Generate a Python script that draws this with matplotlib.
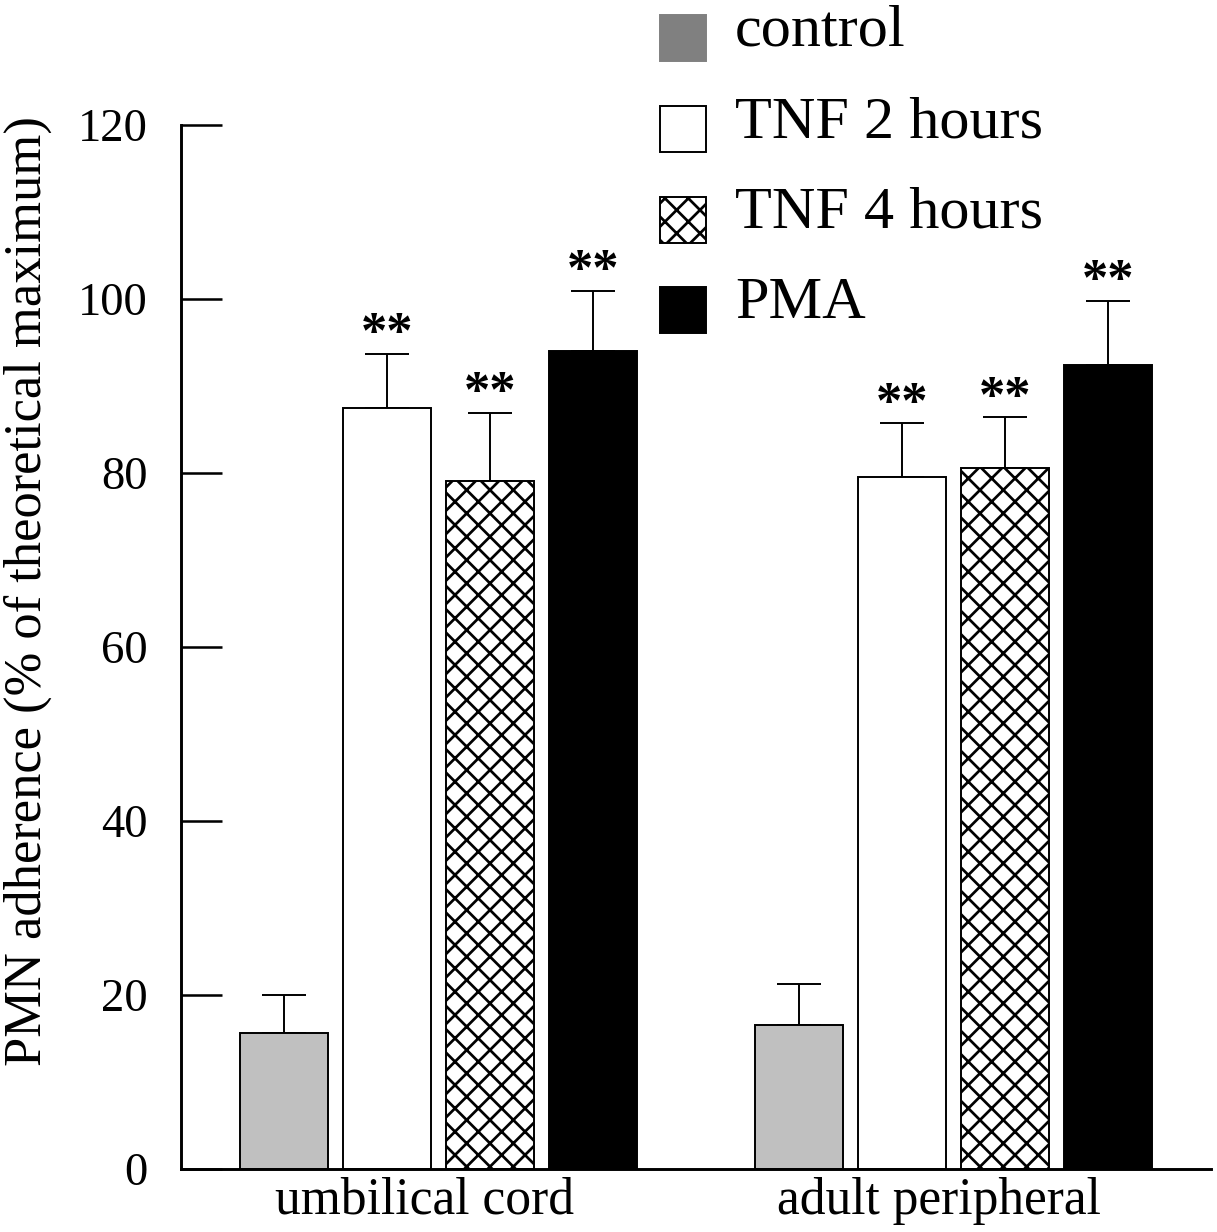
import numpy as np
import matplotlib
matplotlib.use("Agg")
import matplotlib.pyplot as plt
import matplotlib.patches as mpatches

# ---- data ----
groups = ["umbilical cord", "adult peripheral"]
treatments = ["control", "TNF 2 hours", "TNF 4 hours", "PMA"]
cord_means = [15.6, 87.5, 79.1, 94.0]
cord_err = [4.4, 6.2, 7.8, 6.9]
adult_means = [16.6, 79.5, 80.6, 92.4]
adult_err = [4.7, 6.2, 5.8, 7.4]
signif = ["", "**", "**", "**"]

plt.rcParams['font.family'] = ['Liberation Serif', 'DejaVu Serif']
plt.rcParams['hatch.linewidth'] = 1.4

W, H, DPI = 1217, 1232, 140
fig = plt.figure(figsize=(W / DPI, H / DPI), dpi=DPI)
ax = fig.add_axes([181 / W, 1 - 1169 / H, (1211 - 181) / W, (1169 - 125) / H])

face = ["#c0c0c0", "white", "white", "black"]
hatch = [None, None, "xx", None]
legend_face = ["#808080", "white", "white", "black"]

centers = np.array([0.0, 5.0])
offsets = np.array([-1.5, -0.5, 0.5, 1.5])
width = 0.85

means = np.array([cord_means, adult_means])
errs = np.array([cord_err, adult_err])

for j in range(len(treatments)):
    xs = centers + offsets[j]
    ax.bar(xs, means[:, j], width=width, color=face[j], edgecolor="black",
           linewidth=1.0, hatch=hatch[j], zorder=2)
    ax.errorbar(xs, means[:, j], yerr=[np.zeros(2), errs[:, j]], fmt="none",
                ecolor="black", elinewidth=1.0, capsize=11.5, capthick=1.0, zorder=1)
    if signif[j]:
        for x, m, e in zip(xs, means[:, j], errs[:, j]):
            ax.text(x, m + e - 0.6, signif[j], ha="center", va="bottom",
                    fontsize=27, fontweight="bold")

ax.set_xlim(-2.5, 7.5)
ax.set_ylim(0, 120)
ax.set_yticks(np.arange(0, 121, 20))
# group labels sit a little left of the group centre in the original
ax.set_xticks(centers - 0.14)
ax.set_xticklabels(groups, fontsize=26.5)
ax.tick_params(axis="x", length=0, pad=4)
ax.tick_params(axis="y", direction="in", length=21, width=1.3, pad=17, labelsize=24)
for s in ["top", "right"]:
    ax.spines[s].set_visible(False)
for s in ["left", "bottom"]:
    ax.spines[s].set_linewidth(1.5)
ax.set_ylabel("PMN adherence (% of theoretical maximum)", fontsize=27)
ax.yaxis.set_label_coords(-0.125, 0.554)

# legend drawn by hand, squares sit slightly low against the text
box = 46
row_top = [15, 106, 197, 287]
for i, lab in enumerate(treatments):
    top = row_top[i]
    fig.add_artist(mpatches.Rectangle((660 / W, 1 - (top + box) / H), box / W, box / H,
                                      transform=fig.transFigure, facecolor=legend_face[i],
                                      edgecolor="black" if i else legend_face[i],
                                      linewidth=1.0, hatch=hatch[i]))
    fig.text(735 / W, 1 - (top + 31) / H, lab, ha="left", va="baseline", fontsize=31)

fig.savefig("out.png", dpi=DPI)
